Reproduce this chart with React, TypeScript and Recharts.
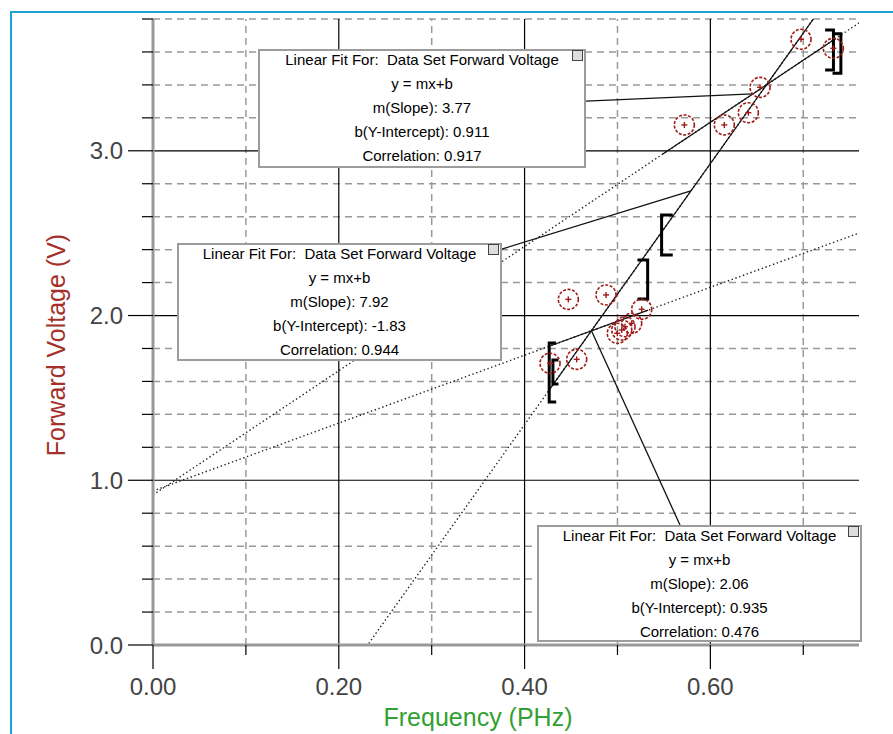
import React from 'react';
import { ComposedChart, Line, Scatter, XAxis, YAxis, ReferenceLine } from 'recharts';

// measured points (frequency in PHz, forward voltage in V)
const freq = [0.4274, 0.4471, 0.4561, 0.4877, 0.4998, 0.5046, 0.5081, 0.5153, 0.5261, 0.572, 0.615, 0.6409, 0.6535, 0.6976, 0.7324];
const voltage = [1.71, 2.098, 1.734, 2.125, 1.892, 1.912, 1.932, 1.953, 2.038, 3.157, 3.157, 3.231, 3.385, 3.677, 3.622];

const xTicks = [0, 0.1, 0.2, 0.3, 0.4, 0.5, 0.6, 0.7];
const yTicks = [0, 0.2, 0.4, 0.6, 0.8, 1, 1.2, 1.4, 1.6, 1.8, 2, 2.2, 2.4, 2.6, 2.8, 3, 3.2, 3.4, 3.6, 3.8];
const xMajorGrid = [0.2, 0.4, 0.6];
const xMinorGrid = [0.1, 0.3, 0.5, 0.7];
const yMajorGrid = [1, 2, 3];
const yMinorGrid = [0.2, 0.4, 0.6, 0.8, 1.2, 1.4, 1.6, 1.8, 2.2, 2.4, 2.6, 2.8, 3.2, 3.4, 3.6, 3.8];

// linear fits as shown in the annotation boxes
const fitSlope = [3.77, 7.92, 2.06];
const fitIntercept = [0.911, -1.83, 0.935];
const fitCorrelation = ['0.917', '0.944', '0.476'];
const fitSlopeLabel = ['3.77', '7.92', '2.06'];
const fitInterceptLabel = ['0.911', '-1.83', '0.935'];
const fitStart = [0.548, 0.428, 0.428];
const fitEnd = [0.735, 0.735, 0.533];

// fit range brackets
const bracketX = [0.4265, 0.4305, 0.5325, 0.5475, 0.7325, 0.7405];
const bracketLow = [1.475, 1.585, 2.1, 2.367, 3.49, 3.47];
const bracketHigh = [1.833, 1.73, 2.337, 2.61, 3.733, 3.71];
const bracketCap = [0.0075, 0.006, -0.011, 0.012, -0.009, -0.009];

// leader lines from each box to its fit line
const leaderFrom = [[0.466, 3.302], [0.3736, 2.4], [0.5673, 0.7284]];
const leaderTo = [[0.6457, 3.345], [0.579, 2.756], [0.472, 1.907]];

const X_MAX = 0.76;
const points = freq.map((x, i) => ({ x, y: voltage[i] }));

const XTick = (props: any) => {
  const { x, y, payload } = props;
  const v = payload.value;
  const major = Math.abs(v * 5 - Math.round(v * 5)) < 1e-6;
  return (
    <g>
      <line x1={x} x2={x} y1={y} y2={y + (major ? 24 : 10)} stroke="#000" strokeWidth={1.2} />
      {major && (
        <text x={x} y={y + 50} textAnchor="middle" fontSize={24} fill="#444" fontFamily="Liberation Sans, Arial, sans-serif">
          {v.toFixed(2)}
        </text>
      )}
    </g>
  );
};

const YTick = (props: any) => {
  const { x, y, payload } = props;
  const v = payload.value;
  const major = Math.abs(v - Math.round(v)) < 1e-6;
  return (
    <g>
      <line x1={x - (major ? 25 : 11)} x2={x} y1={y} y2={y} stroke="#000" strokeWidth={1.2} />
      {major && (
        <text x={x - 30} y={y + 8.5} textAnchor="end" fontSize={24} fill="#444" fontFamily="Liberation Sans, Arial, sans-serif">
          {v.toFixed(1)}
        </text>
      )}
    </g>
  );
};

const DataPoint = (props: any) => {
  const { cx, cy } = props;
  return (
    <g>
      <circle cx={cx} cy={cy} r={10} fill="none" stroke="#9e1c18" strokeWidth={1.6} strokeDasharray="3 1.6" />
      <line x1={cx - 3} x2={cx + 3} y1={cy} y2={cy} stroke="#9e1c18" strokeWidth={1.4} />
      <line x1={cx} x2={cx} y1={cy - 3} y2={cy + 3} stroke="#9e1c18" strokeWidth={1.4} />
    </g>
  );
};

const boxPos = [
  { left: 258, top: 49, width: 328, height: 119 },
  { left: 177, top: 243, width: 325, height: 118 },
  { left: 537, top: 525, width: 325, height: 117 },
];

const FitBox = ({ i }: { i: number }) => {
  const p = boxPos[i];
  const lines = [
    'Linear Fit For:  Data Set Forward Voltage',
    'y = mx+b',
    `m(Slope): ${fitSlopeLabel[i]}`,
    `b(Y-Intercept): ${fitInterceptLabel[i]}`,
    `Correlation: ${fitCorrelation[i]}`,
  ];
  return (
    <div
      style={{
        position: 'absolute',
        left: p.left,
        top: p.top,
        width: p.width,
        height: p.height,
        boxSizing: 'border-box',
        border: '2px solid #9c9c9c',
        background: '#fff',
        fontFamily: 'Liberation Sans, Arial, sans-serif',
        fontSize: 15,
        color: '#000',
        textAlign: 'center',
        lineHeight: '24px',
      }}
    >
      <div style={{ marginTop: -3 }}>
        {lines.map((t, k) => (
          <div key={k} style={{ whiteSpace: 'pre' }}>{t}</div>
        ))}
      </div>
      <div
        style={{
          position: 'absolute',
          right: 1,
          top: -1,
          width: 9,
          height: 9,
          border: '1px solid #444',
          background: '#ddd',
        }}
      />
    </div>
  );
};

export default function App() {
  return (
    <div style={{ position: 'absolute', left: 0, top: 0, width: 893, height: 734, background: '#fff', overflow: 'hidden' }}>
      <ComposedChart width={893} height={734} margin={{ top: 19, right: 34, left: 0, bottom: 0 }}>
        <XAxis
          type="number"
          dataKey="x"
          domain={[0, X_MAX]}
          ticks={xTicks}
          interval={0}
          allowDataOverflow
          height={89}
          tickLine={false}
          tickSize={0}
          tickMargin={0}
          tick={<XTick />}
          axisLine={{ stroke: '#999', strokeWidth: 3 }}
        />
        <YAxis
          type="number"
          dataKey="y"
          domain={[0, 3.8]}
          ticks={yTicks}
          interval={0}
          allowDataOverflow
          width={153}
          tickLine={false}
          tickSize={0}
          tickMargin={0}
          tick={<YTick />}
          axisLine={{ stroke: '#999', strokeWidth: 3 }}
        />
        {xMinorGrid.map((v) => (
          <ReferenceLine key={`xm${v}`} x={v} stroke="#999" strokeWidth={1.5} strokeDasharray="7 5" />
        ))}
        {yMinorGrid.map((v) => (
          <ReferenceLine key={`ym${v}`} y={v} stroke="#999" strokeWidth={1.5} strokeDasharray="7 5" />
        ))}
        {xMajorGrid.map((v) => (
          <ReferenceLine key={`xM${v}`} x={v} stroke="#000" strokeWidth={1.2} />
        ))}
        {yMajorGrid.map((v) => (
          <ReferenceLine key={`yM${v}`} y={v} stroke="#000" strokeWidth={1.2} />
        ))}

        {fitSlope.map((m, i) => (
          <Line
            key={`fitd${i}`}
            data={[{ x: 0, y: fitIntercept[i] }, { x: X_MAX, y: m * X_MAX + fitIntercept[i] }]}
            dataKey="y"
            type="linear"
            dot={false}
            stroke="#222"
            strokeWidth={1.4}
            strokeDasharray="1.4 2.6"
            isAnimationActive={false}
          />
        ))}
        {fitSlope.map((m, i) => (
          <Line
            key={`fits${i}`}
            data={[
              { x: fitStart[i], y: m * fitStart[i] + fitIntercept[i] },
              { x: fitEnd[i], y: m * fitEnd[i] + fitIntercept[i] },
            ]}
            dataKey="y"
            type="linear"
            dot={false}
            stroke="#111"
            strokeWidth={1.2}
            isAnimationActive={false}
          />
        ))}
        {leaderFrom.map((f, i) => (
          <Line
            key={`lead${i}`}
            data={[{ x: f[0], y: f[1] }, { x: leaderTo[i][0], y: leaderTo[i][1] }]}
            dataKey="y"
            type="linear"
            dot={false}
            stroke="#111"
            strokeWidth={1.3}
            isAnimationActive={false}
          />
        ))}
        {bracketX.map((bx, i) => (
          <Line
            key={`br${i}`}
            data={[
              { x: bx + bracketCap[i], y: bracketHigh[i] },
              { x: bx, y: bracketHigh[i] },
              { x: bx, y: bracketLow[i] },
              { x: bx + bracketCap[i], y: bracketLow[i] },
            ]}
            dataKey="y"
            type="linear"
            dot={false}
            stroke="#000"
            strokeWidth={3}
            isAnimationActive={false}
          />
        ))}
        <Scatter data={points} dataKey="y" shape={<DataPoint />} isAnimationActive={false} />
      </ComposedChart>

      <svg width={893} height={734} style={{ position: 'absolute', left: 0, top: 0, pointerEvents: 'none' }}>
        <text
          x={65}
          y={345}
          transform="rotate(-90, 65, 345)"
          textAnchor="middle"
          fontSize={25}
          fill="#a3302a"
          fontFamily="Liberation Sans, Arial, sans-serif"
        >
          Forward Voltage (V)
        </text>
        <text x={478} y={726} textAnchor="middle" fontSize={25} fill="#33a033" fontFamily="Liberation Sans, Arial, sans-serif">
          Frequency (PHz)
        </text>
      </svg>

      {fitSlope.map((_, i) => (
        <FitBox key={i} i={i} />
      ))}

      <div style={{ position: 'absolute', left: 10, top: 11, width: 900, height: 2, background: '#1ba3d6' }} />
      <div style={{ position: 'absolute', left: 10, top: 11, width: 2, height: 740, background: '#1ba3d6' }} />
    </div>
  );
}
